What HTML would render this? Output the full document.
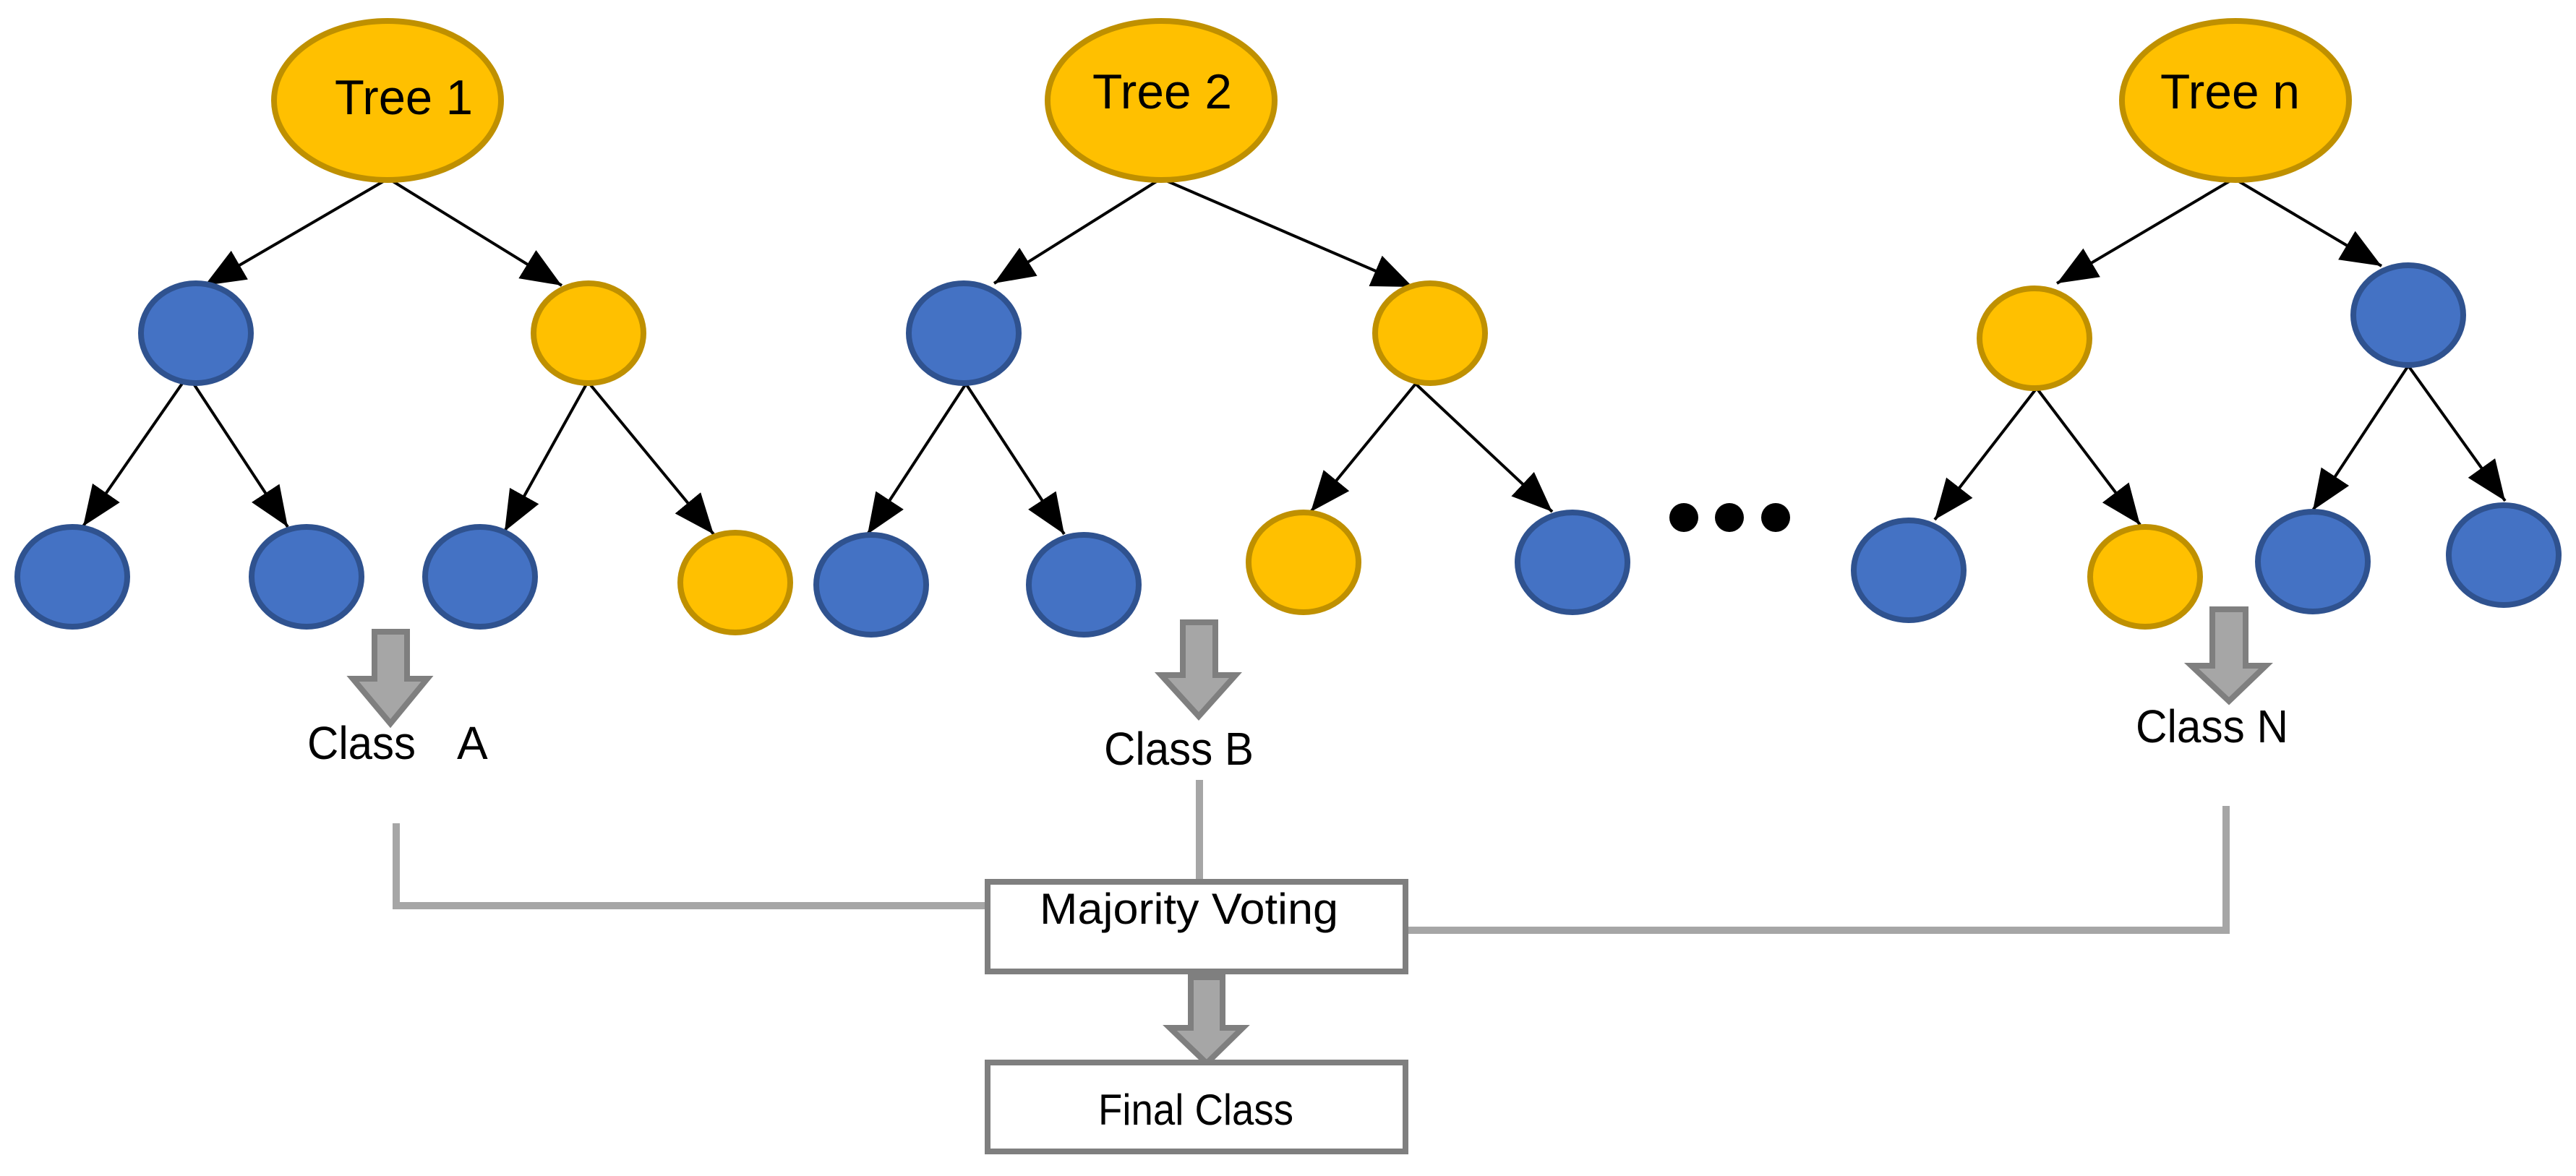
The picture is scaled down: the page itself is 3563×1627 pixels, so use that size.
<!DOCTYPE html>
<html><head><meta charset="utf-8"><style>html,body{margin:0;padding:0;background:#fff;overflow:hidden}svg{display:block}</style></head>
<body>
<svg width="3563" height="1627" viewBox="0 0 3563 1627" xmlns="http://www.w3.org/2000/svg" font-family="'Liberation Sans', sans-serif">
<defs>
<marker id="ah" markerUnits="userSpaceOnUse" markerWidth="60" markerHeight="50" refX="56" refY="23" orient="auto">
<path d="M0,0 L56,23 L0,46 z" fill="#000"/>
</marker>
</defs>
<g stroke="#000" stroke-width="4" marker-end="url(#ah)">
<line x1="537" y1="247" x2="283" y2="395"/>
<line x1="537" y1="247" x2="777" y2="395"/>
<line x1="260" y1="519" x2="115" y2="728"/>
<line x1="260" y1="519" x2="398" y2="729"/>
<line x1="813" y1="528" x2="698" y2="735"/>
<line x1="813" y1="528" x2="987" y2="739"/>
<line x1="1606" y1="247" x2="1375" y2="392"/>
<line x1="1606" y1="247" x2="1954" y2="397"/>
<line x1="1336" y1="531" x2="1200" y2="739"/>
<line x1="1336" y1="531" x2="1472" y2="739"/>
<line x1="1958" y1="531" x2="1813" y2="708"/>
<line x1="1958" y1="531" x2="2147" y2="708"/>
<line x1="3090" y1="247" x2="2845" y2="392"/>
<line x1="3090" y1="247" x2="3294" y2="368"/>
<line x1="2817" y1="537" x2="2676" y2="719"/>
<line x1="2817" y1="537" x2="2960" y2="726"/>
<line x1="3331" y1="506" x2="3199" y2="706"/>
<line x1="3331" y1="506" x2="3465" y2="693"/>
</g>
<g stroke-width="8">
<g fill="#ffc000" stroke="#bf9000">
<ellipse cx="536" cy="139" rx="157" ry="110"/>
<ellipse cx="1606" cy="139" rx="157" ry="110"/>
<ellipse cx="3092" cy="139" rx="157" ry="110"/>
<ellipse cx="814" cy="461" rx="76" ry="69"/>
<ellipse cx="1017" cy="806" rx="76" ry="69"/>
<ellipse cx="1978" cy="461" rx="76" ry="69"/>
<ellipse cx="1803" cy="778" rx="76" ry="69"/>
<ellipse cx="2814" cy="468" rx="76" ry="69"/>
<ellipse cx="2967" cy="798" rx="76" ry="69"/>
</g>
<g fill="#4472c4" stroke="#2f528f">
<ellipse cx="271" cy="461" rx="76" ry="69"/>
<ellipse cx="100" cy="798" rx="76" ry="69"/>
<ellipse cx="424" cy="798" rx="76" ry="69"/>
<ellipse cx="664" cy="798" rx="76" ry="69"/>
<ellipse cx="1333" cy="461" rx="76" ry="69"/>
<ellipse cx="1205" cy="809" rx="76" ry="69"/>
<ellipse cx="1499" cy="809" rx="76" ry="69"/>
<ellipse cx="2175" cy="778" rx="76" ry="69"/>
<ellipse cx="3331" cy="436" rx="76" ry="69"/>
<ellipse cx="2640" cy="789" rx="76" ry="69"/>
<ellipse cx="3199" cy="777" rx="76" ry="69"/>
<ellipse cx="3463" cy="768" rx="76" ry="69"/>
</g>
</g>
<g fill="#000">
<ellipse cx="2329" cy="716" rx="20" ry="20"/>
<ellipse cx="2392" cy="716" rx="20" ry="20"/>
<ellipse cx="2456" cy="716" rx="20" ry="20"/>
</g>
<g font-size="68" fill="#000">
<text x="463" y="158" textLength="191" lengthAdjust="spacingAndGlyphs">Tree 1</text>
<text x="1511" y="150" textLength="193" lengthAdjust="spacingAndGlyphs">Tree 2</text>
<text x="2988" y="150" textLength="193" lengthAdjust="spacingAndGlyphs">Tree n</text>
</g>
<g fill="#a6a6a6" stroke="#7f7f7f" stroke-width="8" stroke-linejoin="miter">
<path d="M518,874 L563,874 L563,939 L591,939 L540,1001 L488,939 L518,939 z"/>
<path d="M1636,861 L1681,861 L1681,934 L1709,934 L1658,991 L1606,934 L1636,934 z"/>
<path d="M3060,843 L3106,843 L3106,921 L3134,921 L3083,970 L3031,921 L3060,921 z"/>
<path d="M1647,1352 L1691,1352 L1691,1422 L1719,1422 L1669,1471 L1618,1422 L1647,1422 z"/>
</g>
<g font-size="64" fill="#000">
<text x="425" y="1050" textLength="150" lengthAdjust="spacingAndGlyphs">Class</text>
<text x="632" y="1050">A</text>
<text x="1527" y="1058" textLength="207" lengthAdjust="spacingAndGlyphs">Class B</text>
<text x="2954" y="1027" textLength="211" lengthAdjust="spacingAndGlyphs">Class N</text>
</g>
<g stroke="#a6a6a6" stroke-width="10" fill="none">
<polyline points="548,1139 548,1253 1364,1253"/>
<line x1="1659" y1="1079" x2="1659" y2="1218"/>
<polyline points="3079,1115 3079,1287 1946,1287"/>
</g>
<g fill="#fff" stroke="#7f7f7f" stroke-width="8">
<rect x="1366" y="1220" width="578" height="124"/>
<rect x="1366" y="1470" width="578" height="123"/>
</g>
<g font-size="60" fill="#000">
<text x="1438" y="1278" textLength="413" lengthAdjust="spacingAndGlyphs">Majority Voting</text>
<text x="1519" y="1556" textLength="270" lengthAdjust="spacingAndGlyphs">Final Class</text>
</g>
</svg>
</body></html>
